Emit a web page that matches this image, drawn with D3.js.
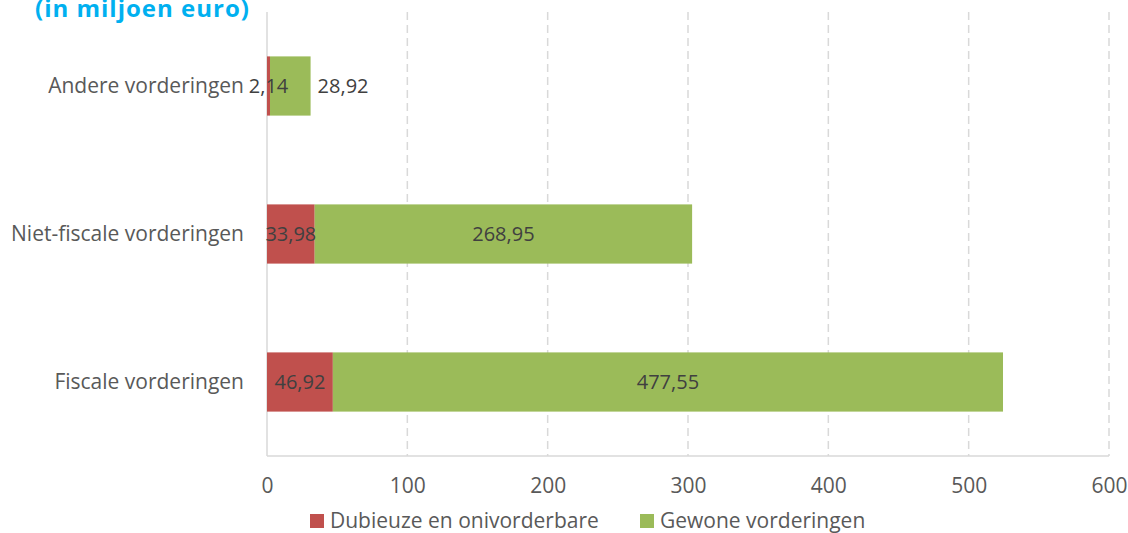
<!DOCTYPE html>
<html>
<head>
<meta charset="utf-8">
<script src="https://cdn.jsdelivr.net/npm/d3@7"></script>
<style>
    body { margin: 0; background: #fff; }
    svg { display: block; font-family: "Open Sans", sans-serif; }
</style>
</head>
<body>
<svg id="chart"></svg>
<script>
// data
const categories = ["Andere vorderingen", "Niet-fiscale vorderingen", "Fiscale vorderingen"];
const dubieuze = [2.14, 33.98, 46.92];
const gewone = [28.92, 268.95, 477.55];
const seriesNames = ["Dubieuze en onivorderbare", "Gewone vorderingen"];
const xTicks = [0, 100, 200, 300, 400, 500, 600];
const title = "(in miljoen euro)";

const colors = ["#C0504D", "#9BBB59"];

class StackedBar {
    margin = { top: 12, right: 19, bottom: 77, left: 267 }

    constructor(svg, width = 1128, height = 533) {
        this.svg = d3.select(svg);
        this.width = width;
        this.height = height;
        this.nl = d3.formatLocale({ decimal: ",", thousands: ".", grouping: [3], currency: ["€", ""] });
        this.fmt = this.nl.format(".2f");
    }

    initialize() {
        this.svg.attr("width", this.width).attr("height", this.height);
        this.innerW = this.width - this.margin.left - this.margin.right;
        this.innerH = this.height - this.margin.top - this.margin.bottom;

        this.xScale = d3.scaleLinear().domain([0, 600]).range([0, this.innerW]);
        this.yScale = d3.scaleBand()
            .domain(categories)
            .range([0, this.innerH])
            .paddingInner(0.6)
            .paddingOuter(0.3);

        this.container = this.svg.append("g")
            .attr("transform", `translate(${this.margin.left}, ${this.margin.top})`);
    }

    draw() {
        const x = this.xScale, y = this.yScale, c = this.container;

        // grid
        c.append("g").selectAll("line")
            .data(xTicks.filter(d => d > 0))
            .join("line")
            .attr("x1", d => x(d)).attr("x2", d => x(d))
            .attr("y1", 0).attr("y2", this.innerH)
            .attr("stroke", "#D9D9D9")
            .attr("stroke-width", 1.5)
            .attr("stroke-dasharray", "8,5");

        // axes lines
        c.append("line")
            .attr("x1", 0).attr("x2", 0).attr("y1", 0).attr("y2", this.innerH)
            .attr("stroke", "#D9D9D9").attr("stroke-width", 1.5);
        c.append("line")
            .attr("x1", 0).attr("x2", this.innerW).attr("y1", this.innerH).attr("y2", this.innerH)
            .attr("stroke", "#D9D9D9").attr("stroke-width", 1.5);

        // x tick labels
        const xAxis = c.append("g")
            .attr("transform", `translate(0, ${this.innerH})`)
            .call(d3.axisBottom(x).tickValues(xTicks).tickSize(0).tickPadding(22).tickFormat(d3.format("d")));
        xAxis.select(".domain").remove();
        xAxis.selectAll("text")
            .attr("fill", "#595959")
            .style("font-size", "21px")
            .style("font-family", "'Open Sans', sans-serif");

        // y labels
        const yAxis = c.append("g")
            .call(d3.axisLeft(y).tickSize(0).tickPadding(23));
        yAxis.select(".domain").remove();
        yAxis.selectAll("text")
            .attr("fill", "#595959")
            .style("font-size", "21px")
            .style("font-family", "'Open Sans', sans-serif");

        // stacked rows
        const rows = categories.map((cat, i) => ({
            cat,
            segs: [
                { s: 0, v: dubieuze[i], k: 0 },
                { s: 0 + dubieuze[i], v: gewone[i], k: 1 }
            ]
        }));
        const segs = rows.flatMap(r => r.segs.map(s => ({ ...s, cat: r.cat })));

        c.append("g").selectAll("rect")
            .data(segs)
            .join("rect")
            .attr("x", d => x(d.s))
            .attr("y", d => y(d.cat))
            .attr("width", d => x(d.s + d.v) - x(d.s))
            .attr("height", y.bandwidth())
            .attr("fill", d => colors[d.k]);

        // data labels: centred in the segment, outside at the end if it does not fit
        const fmt = this.fmt;
        c.append("g").selectAll("text")
            .data(segs)
            .join("text")
            .attr("y", d => y(d.cat) + y.bandwidth() / 2)
            .attr("dy", "0.35em")
            .attr("fill", "#404040")
            .style("font-size", "20px")
            .text(d => fmt(d.v))
            .each(function (d) {
                const t = d3.select(this);
                const w = this.getComputedTextLength();
                const segW = x(d.s + d.v) - x(d.s);
                if (d.k === 1 && segW < w + 4) {
                    t.attr("x", x(d.s + d.v) + 7).attr("text-anchor", "start");
                } else {
                    t.attr("x", x(d.s + d.v / 2)).attr("text-anchor", "middle");
                }
            });

        // title (partly cut at top, as in the source)
        this.svg.append("text")
            .attr("x", 35).attr("y", 17)
            .attr("fill", "#00B0F0")
            .style("font-size", "24px")
            .style("font-weight", "bold")
            .style("letter-spacing", "1px")
            .text(title);

        // legend
        const legend = this.svg.append("g").attr("transform", "translate(310, 514)");
        const offsets = [0, 330];
        const items = legend.selectAll("g")
            .data(seriesNames)
            .join("g")
            .attr("transform", (d, i) => `translate(${offsets[i]}, 0)`);
        items.append("rect")
            .attr("width", 14).attr("height", 14)
            .attr("fill", (d, i) => colors[i]);
        items.append("text")
            .attr("x", 20).attr("y", 14)
            .attr("fill", "#595959")
            .style("font-size", "21px")
            .text(d => d);
    }
}

const chart = new StackedBar(document.getElementById("chart"));
chart.initialize();
chart.draw();
</script>
</body>
</html>
